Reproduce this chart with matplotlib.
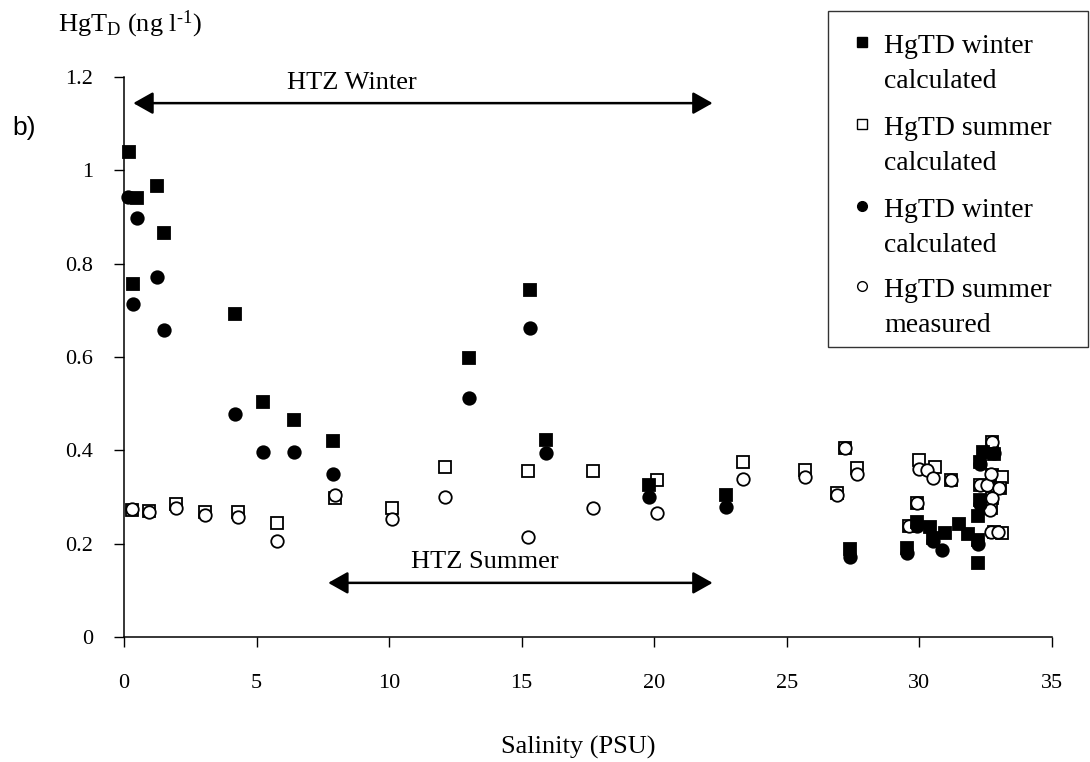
"""
Mercury (HgT_D) vs salinity scatter, panel b).
Winter / summer, calculated and measured series, with HTZ ranges marked.
"""

import matplotlib
matplotlib.use("Agg")
import matplotlib.pyplot as plt
from matplotlib.lines import Line2D
from matplotlib.patches import Rectangle

plt.rcParams["font.family"] = ["Liberation Serif", "DejaVu Serif"]
plt.rcParams["mathtext.fontset"] = "custom"
plt.rcParams["mathtext.rm"] = "Liberation Serif"
plt.rcParams["mathtext.it"] = "Liberation Serif:italic"

# ── Data ──────────────────────────────────────────────────────────────────────

# HgTD winter calculated  (filled squares)
wc_sal = [0.2, 0.35, 0.5, 1.23, 1.51, 4.2, 5.25, 6.4, 7.9, 13.0, 15.3, 15.9,
          19.8, 22.7, 27.4, 29.55, 29.9, 30.4, 30.5, 30.95, 31.5, 31.85, 32.2,
          32.2, 32.2, 32.3, 32.3, 32.4, 32.8]
wc_hg = [1.04, 0.756, 0.94, 0.966, 0.866, 0.692, 0.504, 0.466, 0.42, 0.597,
         0.744, 0.422, 0.326, 0.304, 0.188, 0.19, 0.246, 0.236, 0.212, 0.223,
         0.242, 0.22, 0.207, 0.158, 0.26, 0.293, 0.376, 0.397, 0.392]

# HgTD summer calculated  (open squares)
sc_sal = [0.29, 0.95, 1.96, 3.06, 4.29, 5.76, 7.96, 10.1, 12.1, 15.25, 17.7,
          20.1, 23.36, 25.7, 26.9, 27.2, 27.65, 29.6, 29.9, 30.0, 30.6, 31.2,
          32.3, 32.75, 32.75, 33.1, 33.05, 32.75, 32.7, 32.8, 33.1]
sc_hg = [0.272, 0.269, 0.284, 0.268, 0.268, 0.244, 0.297, 0.276, 0.365, 0.356,
         0.356, 0.336, 0.376, 0.357, 0.308, 0.405, 0.362, 0.237, 0.287, 0.38,
         0.365, 0.336, 0.326, 0.418, 0.348, 0.343, 0.319, 0.298, 0.276, 0.225,
         0.223]

# HgTD winter (second winter series, filled circles)
wm_sal = [0.15, 0.35, 0.48, 1.23, 1.51, 4.2, 5.25, 6.4, 7.9, 13.0, 15.3, 15.9,
          19.8, 22.7, 27.4, 29.55, 29.9, 30.5, 30.85, 32.2, 32.3, 32.3, 32.8]
wm_hg = [0.943, 0.713, 0.898, 0.772, 0.658, 0.477, 0.396, 0.396, 0.349, 0.512,
         0.662, 0.394, 0.30, 0.279, 0.172, 0.18, 0.238, 0.205, 0.186, 0.2,
         0.285, 0.37, 0.395]

# HgTD summer measured  (open circles)
sm_sal = [0.29, 0.95, 1.96, 3.06, 4.29, 5.76, 7.96, 10.1, 12.1, 15.25, 17.7,
          20.1, 23.36, 25.7, 26.9, 27.2, 27.65, 29.6, 29.9, 30.0, 30.3, 30.5,
          31.2, 32.3, 32.55, 32.75, 32.7, 33.0, 32.75, 32.65, 32.7, 32.95]
sm_hg = [0.274, 0.267, 0.276, 0.261, 0.258, 0.206, 0.304, 0.252, 0.30, 0.215,
         0.276, 0.266, 0.338, 0.343, 0.305, 0.405, 0.35, 0.237, 0.287, 0.36,
         0.357, 0.34, 0.336, 0.326, 0.326, 0.418, 0.35, 0.32, 0.298, 0.272,
         0.225, 0.226]

legend_labels = ["HgTD winter\ncalculated", "HgTD summer\ncalculated",
                 "HgTD winter\ncalculated", "HgTD summer\nmeasured"]

x_ticks = [0, 5, 10, 15, 20, 25, 30, 35]
y_ticks = [0, 0.2, 0.4, 0.6, 0.8, 1.0, 1.2]
y_tick_labels = ["0", "0.2", "0.4", "0.6", "0.8", "1", "1.2"]

# HTZ ranges (salinity start/end, level of the arrow)
htz_winter = (0.35, 22.2, 1.144)
htz_summer = (7.7, 22.2, 0.116)

# ── Figure ────────────────────────────────────────────────────────────────────

W, H = 1090, 762
fig = plt.figure(figsize=(W / 100, H / 100), dpi=100)
ax = fig.add_axes([124 / W, 1 - 637 / H, (1052 - 124) / W, (637 - 77) / H])

# marker styles: (marker, face, zorder)
series = [
    (sc_sal, sc_hg, "s", "white", 2),
    (sm_sal, sm_hg, "o", "white", 3),
    (wc_sal, wc_hg, "s", "black", 4),
    (wm_sal, wm_hg, "o", "black", 5),
]
for xs, ys, mk, face, z in series:
    ax.plot(xs, ys, linestyle="none", marker=mk, ms=9, mfc=face, mec="black",
            mew=1.3, clip_on=False, zorder=z)

ax.set_xlim(0, 35)
ax.set_ylim(0, 1.2)
ax.set_xticks(x_ticks)
ax.set_xticklabels([str(t) for t in x_ticks])
ax.set_yticks(y_ticks)
ax.set_yticklabels(y_tick_labels)

for side in ("top", "right"):
    ax.spines[side].set_visible(False)
for side in ("left", "bottom"):
    ax.spines[side].set_linewidth(1.1)
ax.tick_params(axis="x", direction="out", length=7, width=1, pad=20,
               labelsize=16)
ax.tick_params(axis="y", direction="out", length=7, width=1, pad=15,
               labelsize=16)

# HTZ arrows
for (x0, x1, yv) in (htz_winter, htz_summer):
    ax.annotate("", xy=(x1, yv), xytext=(x0, yv),
                arrowprops=dict(arrowstyle="<|-|>,head_length=0.8,head_width=0.45",
                                mutation_scale=15, lw=1.8, color="black",
                                shrinkA=0, shrinkB=0),
                annotation_clip=False)
ax.text(8.6, 1.187, "HTZ Winter", ha="center", va="center", fontsize=19)
ax.text(13.6, 0.161, "HTZ Summer", ha="center", va="center", fontsize=19)

# axis titles
fig.text(58 / W, 1 - 24 / H, r"HgT$_{\rm D}$ (ng l$^{\text{-1}}$)", ha="left",
         va="center", fontsize=19)
fig.text(578 / W, 1 - 747 / H, "Salinity (PSU)", ha="center", va="center",
         fontsize=19)
fig.text(12 / W, 1 - 128 / H, "b)", ha="left", va="center", fontsize=19,
         family=["Liberation Sans", "DejaVu Sans"])

# ── Legend (drawn by hand so markers sit on the first text line) ──────────────

fig.add_artist(Rectangle((828 / W, 1 - 347 / H), 260 / W, 336 / H,
                         transform=fig.transFigure, facecolor="white",
                         edgecolor="#333333", lw=1.0, zorder=10))
leg_styles = [("s", "black"), ("s", "white"), ("o", "black"), ("o", "white")]
first_baseline = [53, 135, 217, 297]
for label, (mk, face), base in zip(legend_labels, leg_styles, first_baseline):
    fig.add_artist(Line2D([862 / W], [1 - (base - 11) / H], marker=mk, ms=7,
                          mfc=face, mec="black", mew=1.0, linestyle="none",
                          transform=fig.transFigure, zorder=11))
    for i, line in enumerate(label.split("\n")):
        fig.text(884 / W, 1 - (base + 35 * i) / H, line, ha="left",
                 va="baseline", fontsize=20, zorder=11)

fig.savefig("out.png", dpi=100)
